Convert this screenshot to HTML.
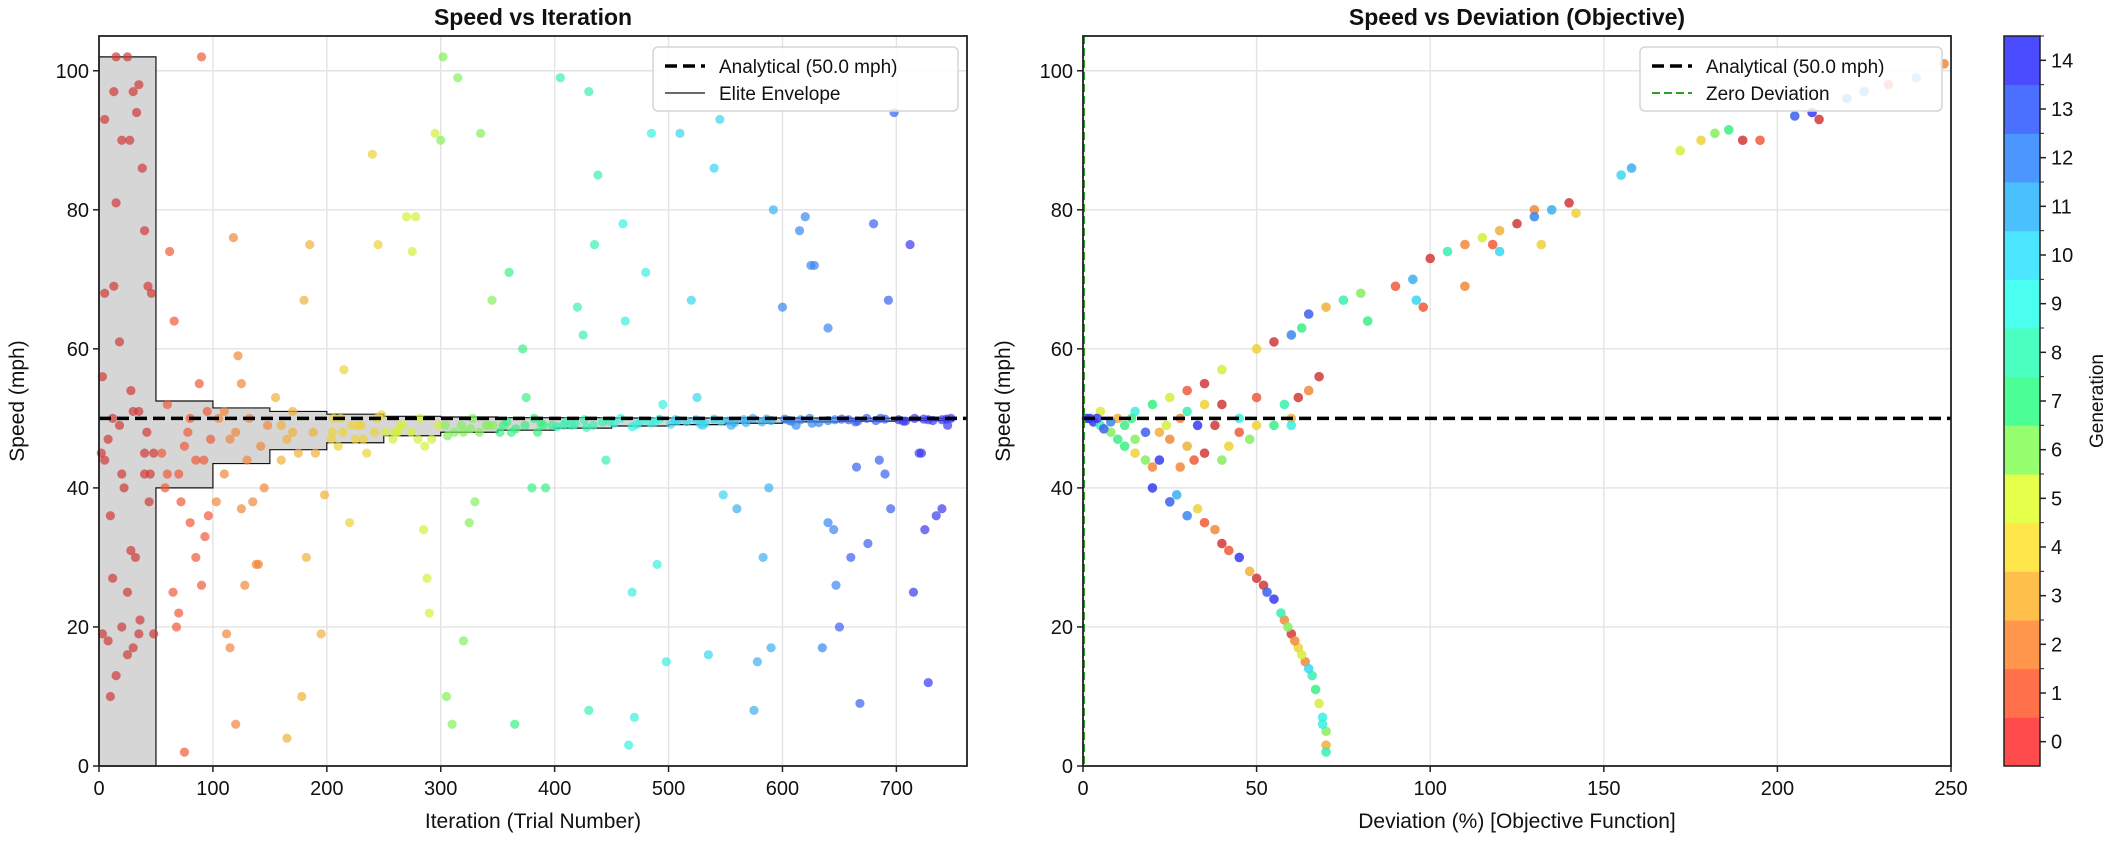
<!DOCTYPE html>
<html><head><meta charset="utf-8"><style>
body{margin:0;background:#fff}
svg{display:block;font-family:"Liberation Sans","DejaVu Sans",sans-serif}
</style></head><body>
<svg id="fig" xmlns="http://www.w3.org/2000/svg" width="2123" height="847" viewBox="0 0 2123 847">
<rect width="2123" height="847" fill="#fff"/>
<g id="left"></g>
<g id="right"></g>
<g id="cbar"></g>
</svg>
<script>
const NS="http://www.w3.org/2000/svg";
const genColors=["#ff4b4b","#ff704b","#ff964b","#ffc04b","#ffe64b","#e6ff4b","#96ff70","#4bff96","#4bffc0","#4bfff0","#4be6ff","#4bc0ff","#4b96ff","#4b70ff","#4b4bff"];
const dotColors=["#d03a3a","#f05a3a","#f0883a","#f0b03a","#ecd23a","#d6ef3a","#86ef5e","#3aef86","#3aefb0","#3aefe0","#3ad6ef","#3ab0ef","#3a86ef","#3a60ef","#3a3aef"];
// Left chart data
const iterations=[5,15,25,30,33,35,13,20,27,38,40,43,46,5,13,3,15,18,28,8,12,30,35,40,45,20,22,2,10,28,32,25,12,40,48,35,30,25,20,15,8,3,10,48,36,44,42,18,5,
55,60,62,66,70,72,75,78,80,85,88,90,95,98,65,70,75,80,85,90,93,96,68,60,92,58,
105,110,115,118,122,125,130,135,140,145,112,115,120,128,138,110,120,132,142,148,125,103,
155,160,165,170,175,180,185,190,195,165,178,182,160,170,188,198,
205,210,215,220,225,230,240,245,212,235,242,
270,278,275,288,290,295,300,302,305,285,260,280,265,298,
315,320,325,330,335,310,345,320,340,
360,365,372,375,380,392,355,385,398,
405,420,425,430,435,438,430,445,415,
460,462,465,470,468,480,485,490,495,498,
510,520,525,535,540,545,548,530,
560,575,578,583,590,588,592,600,555,
615,620,625,628,635,640,645,647,650,640,612,
660,665,668,675,680,685,690,693,695,698,
712,715,720,722,725,728,735,740,745,
204,214,222,232,244,252,258,266,274,282,292,304,312,318,328,334,342,352,358,366,374,382,390,402,410,418,426,434,442,452,458,468,476,484,492,502,508,516,524,532,540,552,558,566,574,582,590,602,608,616,624,632,640,652,658,666,674,682,690,702,708,716,724,732,740,748,206,228,248,262,286,306,326,346,362,388,408,428,448,472,488,506,528,546,568,586,606,626,646,664,686,706,728,744];
const speeds=[93,102,102,97,94,98,97,90,90,86,77,69,68,68,69,56,81,61,54,47,50,51,51,45,42,42,40,45,36,31,30,25,27,42,45,19,17,16,20,13,18,19,10,19,21,38,48,49,44,
45,52,74,64,42,38,46,48,50,44,55,102,51,47,25,22,2,35,30,26,33,36,20,42,44,40,
50,51,47,76,59,55,44,38,29,40,19,17,6,26,29,42,48,50,46,49,37,38,
53,49,47,51,45,67,75,45,19,4,10,30,44,48,48,39,
48,46,57,35,47,49,88,75,50,45,48,
79,79,74,27,22,91,90,102,10,34,48,47,49,49,
99,18,35,38,91,6,67,48,49,
71,6,60,53,40,40,49,48,49,
99,66,62,97,75,85,8,44,49,
78,64,3,7,25,71,91,29,52,15,
91,67,53,16,86,93,39,49,
37,8,15,30,17,40,80,66,49,
77,79,72,72,17,35,34,26,20,63,49,
30,43,9,32,78,44,42,67,37,94,
75,25,45,45,34,12,36,37,49,
47,48,49,47,50,48,47,49,48,50,47,49,48,49,50,48,49,48,49.5,48.5,49,50,49,48.8,49.5,49.2,49.8,49,49.5,49.3,50,48.8,49.6,49.4,49.9,49.2,49.7,49.5,49.8,49.3,49.9,49.6,49.4,49.8,50,49.5,49.7,49.9,49.6,49.8,50,49.4,49.7,49.9,49.8,49.6,50,49.7,49.9,49.8,49.6,50,49.9,49.7,49.8,50,
50,49,50.5,48,46,47.5,48.5,49,48,49.3,49,48.7,49.6,49.1,49.5,49.8,49.2,49.6,49.4,49.9,49.7,49.3,49.8,49.5,50,49.6,49.8,49.9];
const envTop=[102,52.5,51.5,51.0,50.6,50.3,50.2,50.1,50.1,50.05,50.05,50.05,50.05,50.02,50.02];
const envBot=[0,40,43.5,45.5,46.5,47.5,48.0,48.3,48.6,48.9,49.1,49.3,49.5,49.6,49.7];
const leftXTicks=[0,100,200,300,400,500,600,700];
const yTicks=[0,20,40,60,80,100];
// Right chart data
const deviations=[50,55,60,63,65,70,75,80,90,95,100,105,110,115,120,125,130,135,140,142,155,158,172,178,182,186,190,195,205,210,212,220,225,232,240,248,96,98,82,110,132,120,130,118,
20,25,30,35,40,45,48,52,55,58,60,62,64,66,67,68,69,70,70,70,27,33,38,42,50,57,61,63,65,69,53,59,
2,3,5,8,10,12,15,18,20,22,5,10,15,20,25,30,35,40,28,38,45,50,55,60,62,65,68,45,50,58,25,30,35,40,42,33,18,8,4,1,12,22,28,32,60,48,40,35,30,15,6,14,24];
const devSpeeds=[60,61,62,63,65,66,67,68,69,70,73,74,75,76,77,78,80,80,81,79.5,85,86,88.5,90,91,91.5,90,90,93.5,94,93,96,97,98,99,101,67,66,64,69,75,74,79,75,
40,38,36,35,32,30,28,26,24,21,19,17,15,13,11,9,7,5,3,2,39,37,34,31,27,22,18,16,14,6,25,20,
50,49.5,49,48,47,46,45,44,43,44,51,50,51,52,53,54,55,57,50,49,48,49,49,50,53,54,56,50,53,52,47,46,45,44,46,49,48,49.5,50,50,49,48,43,44,49,47,52,52,51,47,48.5,50,49];
const devGens=[4,0,12,7,13,3,8,6,1,11,0,8,2,5,3,0,2,11,0,4,10,11,5,4,6,7,0,1,13,14,0,12,12,1,11,2,10,1,7,2,4,10,12,1,
14,13,12,1,0,14,3,0,14,2,0,4,2,8,7,5,9,6,3,8,11,4,2,1,0,8,2,5,10,9,13,6,
14,14,8,6,7,7,4,6,2,14,5,3,9,7,5,1,0,5,2,0,1,4,7,3,0,2,0,9,1,8,2,3,0,6,4,14,13,12,14,14,7,3,2,1,9,6,0,4,8,6,13,7,5];
const rightXTicks=[0,50,100,150,200,250];
const cbarTicks=[0,1,2,3,4,5,6,7,8,9,10,11,12,13,14];

function el(tag,attrs,parent){const e=document.createElementNS(NS,tag);for(const k in attrs)e.setAttribute(k,attrs[k]);parent.appendChild(e);return e;}
function txt(s,attrs,parent){const e=el('text',attrs,parent);e.textContent=s;return e;}

const Y0=766,Y1=36,YMAX=105;
const ys=v=>Y0-(v/YMAX)*(Y0-Y1);

function axesFrame(g,x0,x1,xmax,xTicks,xs,title,xlabel,cx){
  const grid=el('g',{},g);
  
  
  xTicks.forEach(t=>{if(t>0&&t<xmax)el('line',{x1:xs(t),x2:xs(t),y1:Y1,y2:Y0,stroke:'#e3e3e3','stroke-width':1.4},grid);});
  yTicks.forEach(t=>{if(t>0)el('line',{x1:x0,x2:x1,y1:ys(t),y2:ys(t),stroke:'#e3e3e3','stroke-width':1.4},grid);});
  const tk=el('g',{},g);
  
  
  xTicks.forEach(t=>{const x=xs(t);el('line',{x1:x,x2:x,y1:Y0,y2:Y0+6,stroke:'#222','stroke-width':1.5},tk);
    const l=txt(String(t),{x:x,y:Y0+29,'font-size':20,'text-anchor':'middle',fill:'#111'},tk);
    
    });
  yTicks.forEach(t=>{const y=ys(t);el('line',{x1:x0-6,x2:x0,y1:y,y2:y,stroke:'#222','stroke-width':1.5},tk);
    const l=txt(String(t),{x:x0-10,y:y+7,'font-size':20,'text-anchor':'end',fill:'#111'},tk);
    
    });
  const t1=txt(title,{x:(x0+x1)/2,y:25,'font-size':23,'font-weight':'bold','text-anchor':'middle',fill:'#111'},g);
  
  
  const t2=txt(xlabel,{x:(x0+x1)/2,y:828,'font-size':21,'text-anchor':'middle',fill:'#111'},g);
  
  
  const t3=txt('Speed (mph)',{x:cx,y:(Y0+Y1)/2,'font-size':21,'text-anchor':'middle',fill:'#111',transform:`rotate(-90 ${cx} ${(Y0+Y1)/2})`},g);
  
  
}
function frame(g,x0,x1){const r=el('rect',{x:x0,y:Y1,width:x1-x0,height:Y0-Y1,fill:'none',stroke:'#222','stroke-width':1.8},g);
  
  }
function legend(g,x,y,w,items){
  const lg=el('g',{},g);
  
  
  el('rect',{x:x,y:y,width:w,height:64,rx:5,fill:'#fff','fill-opacity':0.85,stroke:'#d5d5d5','stroke-width':1.5},lg);
  items.forEach((it,i)=>{const yy=y+19+i*27;
    const en=el('g',{},lg);
    
    
    el('line',{x1:x+12,x2:x+52,y1:yy,y2:yy,stroke:it.c,'stroke-width':it.w,'stroke-dasharray':it.d||'none'},en);
    txt(it.t,{x:x+66,y:yy+7,'font-size':19,fill:'#111'},en);});
}

// LEFT
(function(){
  const g=document.getElementById('left');
  const x0=99,x1=967,XMAX=762;const xs=v=>x0+v/XMAX*(x1-x0);
  axesFrame(g,x0,x1,XMAX,leftXTicks,xs,'Speed vs Iteration','Iteration (Trial Number)',24);
  let top='',bot='';
  envTop.forEach((v,i)=>{top+=`L${xs(i*50)},${ys(v)} L${xs(i*50+50)},${ys(v)} `;});
  for(let i=envBot.length-1;i>=0;i--){bot+=`L${xs(i*50+50)},${ys(envBot[i])} L${xs(i*50)},${ys(envBot[i])} `;}
  const env=el('path',{d:'M'+top.slice(1)+bot+'Z',fill:'#d6d6d6',stroke:'#111','stroke-width':1.2},g);
  
  
  const pts=el('g',{},g);
  
  
  iterations.forEach((it,i)=>{if(speeds[i]===undefined)return;const gen=Math.min(14,Math.floor(it/50));
    const c=el('circle',{cx:xs(it),cy:ys(speeds[i]),r:4.6,fill:dotColors[gen],'fill-opacity':0.7},pts);
    
    });
  const ref=el('line',{x1:x0,x2:x1,y1:ys(50),y2:ys(50),stroke:'#000','stroke-width':3.5,'stroke-dasharray':'12 6'},g);
  
  
  frame(g,x0,x1);
  legend(g,653,47,305,[{t:'Analytical (50.0 mph)',c:'#000',w:3.5,d:'12 6'},{t:'Elite Envelope',c:'#111',w:1.2}]);
})();

// RIGHT
(function(){
  const g=document.getElementById('right');
  const x0=1083,x1=1951,XMAX=250;const xs=v=>x0+v/XMAX*(x1-x0);
  axesFrame(g,x0,x1,XMAX,rightXTicks,xs,'Speed vs Deviation (Objective)','Deviation (%) [Objective Function]',1010);
  const pts=el('g',{},g);
  
  
  deviations.forEach((d,i)=>{const c=el('circle',{cx:xs(d),cy:ys(devSpeeds[i]),r:4.8,fill:dotColors[devGens[i]],'fill-opacity':0.85},pts);
    
    });
  const ref=el('line',{x1:x0,x2:x1,y1:ys(50),y2:ys(50),stroke:'#000','stroke-width':3.5,'stroke-dasharray':'12 6'},g);
  
  
  const z=el('line',{x1:xs(0)+1,x2:xs(0)+1,y1:Y1,y2:Y0,stroke:'#2ca02c','stroke-width':2,'stroke-dasharray':'8 4'},g);
  
  
  frame(g,x0,x1);
  legend(g,1640,47,302,[{t:'Analytical (50.0 mph)',c:'#000',w:3.5,d:'12 6'},{t:'Zero Deviation',c:'#2ca02c',w:2,d:'8 4'}]);
})();

// COLORBAR
(function(){
  const g=document.getElementById('cbar');
  const cx0=2004,cx1=2040,n=cbarTicks.length,h=(Y0-Y1)/n;
  cbarTicks.forEach((t,i)=>{const y=Y0-(i+1)*h;
    const r=el('rect',{x:cx0,y:y,width:cx1-cx0,height:h+0.5,fill:genColors[i]},g);
    
    
    el('line',{x1:cx1,x2:cx1+6,y1:y+h/2,y2:y+h/2,stroke:'#222','stroke-width':1.5},g);
    el('line',{x1:cx1,x2:cx1+4,y1:y,y2:y,stroke:'#222','stroke-width':1},g);
    const l=txt(String(t),{x:cx1+11,y:y+h/2+7,'font-size':20,fill:'#111'},g);
    
    });
  el('rect',{x:cx0,y:Y1,width:cx1-cx0,height:Y0-Y1,fill:'none',stroke:'#222','stroke-width':1.5},g);
  const t=txt('Generation',{x:2103,y:(Y0+Y1)/2,'font-size':19,'text-anchor':'middle',fill:'#111',transform:`rotate(-90 2103 ${(Y0+Y1)/2})`},g);
  
  
})();
</script>
</body></html>
